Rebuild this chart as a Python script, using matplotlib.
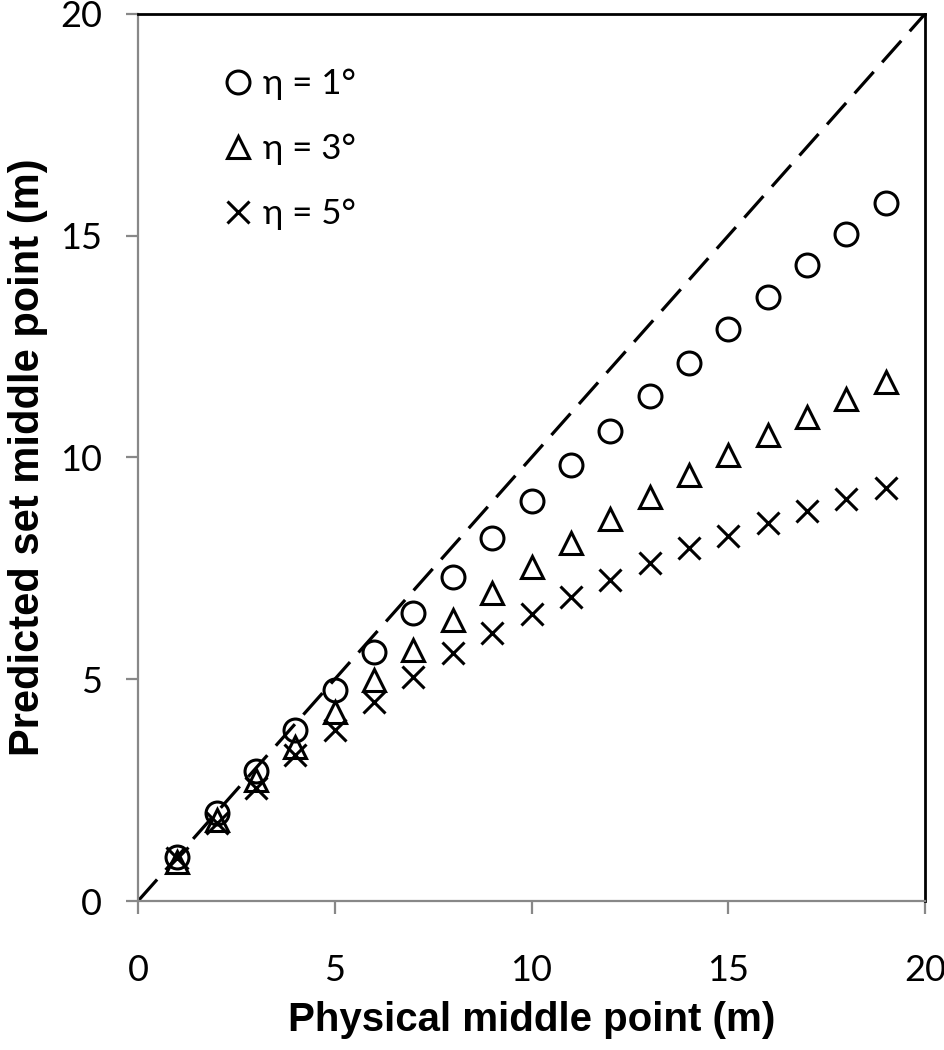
import matplotlib
matplotlib.use("Agg")
import matplotlib.pyplot as plt

# valores
x = [1, 2, 3, 4, 5, 6, 7, 8, 9, 10, 11, 12, 13, 14, 15, 16, 17, 18, 19]
eta1 = [0.99, 1.98, 2.92, 3.86, 4.76, 5.62, 6.49, 7.31, 8.18, 9.02, 9.82,
        10.60, 11.39, 12.14, 12.89, 13.62, 14.34, 15.04, 15.74]
eta3 = [0.89, 1.83, 2.73, 3.48, 4.27, 4.98, 5.66, 6.34, 6.94, 7.53, 8.08,
        8.61, 9.11, 9.60, 10.06, 10.50, 10.91, 11.32, 11.70]
eta5 = [0.97, 1.76, 2.55, 3.29, 3.86, 4.49, 5.06, 5.59, 6.04, 6.47, 6.85,
        7.24, 7.62, 7.95, 8.24, 8.53, 8.80, 9.06, 9.32]
legendas = ["η = 1°", "η = 3°", "η = 5°"]
ticks = [0, 5, 10, 15, 20]

fonte_ticks = "Lato"
fonte_titulo = ["Liberation Sans", "DejaVu Sans"]

fig = plt.figure(figsize=(9.44, 10.5), dpi=100)
ax = fig.add_axes([0.1462, 0.1419, 0.8337, 0.8448])

# linha 1:1
ax.plot([0, 20], [0, 20], color="black", lw=2.3, linestyle=(0, (9, 4)), zorder=1)

kw = dict(linestyle="none", markersize=16.5, markeredgewidth=2.2, color="black", zorder=3)
ax.plot(x, eta1, marker="o", markerfacecolor="none", label=legendas[0], **kw)
ax.plot(x, eta3, marker="^", markerfacecolor="none", label=legendas[1], **kw)
ax.plot(x, eta5, marker="x", label=legendas[2], **kw)

ax.set_xlim(0, 20)
ax.set_ylim(0, 20)
ax.set_xticks(ticks)
ax.set_yticks(ticks)

for lado in ["left", "bottom"]:
    ax.spines[lado].set_color("#888888")
    ax.spines[lado].set_linewidth(1.6)
for lado in ["top", "right"]:
    ax.spines[lado].set_color("black")
    ax.spines[lado].set_linewidth(2.0)

ax.tick_params(direction="out", length=9, width=1.6, color="#888888", labelsize=26)
ax.tick_params(axis="x", pad=29.5)
ax.tick_params(axis="y", pad=17)
for lab in ax.get_xticklabels() + ax.get_yticklabels():
    lab.set_fontfamily(fonte_ticks)

ax.set_xlabel("Physical middle point (m)", fontsize=29, fontweight="bold",
              family=fonte_titulo, va="center")
ax.set_ylabel("Predicted set middle point (m)", fontsize=30, fontweight="bold",
              family=fonte_titulo, va="center")
ax.xaxis.set_label_coords(0.5, -0.134)
ax.yaxis.set_label_coords(-0.14, 0.5)

leg = ax.legend(loc="upper left", bbox_to_anchor=(0.09, 0.955), frameon=False,
                handlelength=0.9, handletextpad=0.25, labelspacing=0.95,
                borderaxespad=0, prop={"family": fonte_ticks, "size": 25})

fig.savefig("out.png", dpi=100)
